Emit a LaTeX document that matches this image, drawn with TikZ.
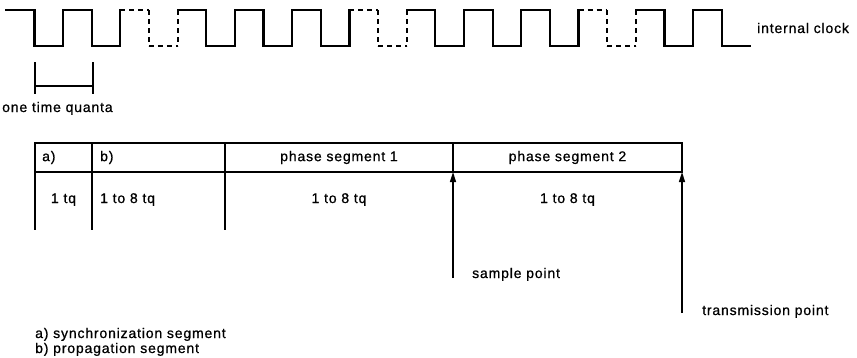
\documentclass[tikz,border=0pt]{standalone}
\usepackage{fontspec}
\setmainfont{Liberation Sans}[LetterSpace=6.0,FakeBold=0.8]
\usetikzlibrary{arrows.meta,positioning}

\tikzset{
  lbl/.style={font=\fontsize{14}{16}\selectfont,inner sep=0pt},
  hdcell/.style={draw,line width=2.2pt,minimum height=29pt,inner sep=0pt,
    outer sep=0pt,anchor=north west,font=\fontsize{14}{16}\selectfont},
  clk/.style={line width=2.2pt,line cap=rect},
  clkdash/.style={line width=2.2pt,dash pattern=on 5pt off 4pt},
  rule/.style={line width=1.5pt},
  pointer/.style={-{Triangle[length=10pt,width=6pt]},line width=1.5pt},
}

\begin{document}
\begin{tikzpicture}[x=1pt,y=-1pt]
  \useasboundingbox (0,0) rectangle (857,357);

  % internal clock
  \draw[clk] (6,10) -- (34.4,10);
  \foreach \i in {0,...,24}{
    \pgfmathsetmacro{\xa}{34.4+28.64*\i}
    \pgfmathsetmacro{\xb}{ifthenelse(\i==24,750,34.4+28.64*(\i+1))}
    \pgfmathsetmacro{\lv}{ifthenelse(mod(\i,2)==0,46,10)}
    \pgfmathtruncatemacro{\m}{mod(\i,8)}
    \def\es{clk}\def\ss{clk}
    \ifnum\m=4 \def\es{clkdash}\def\ss{clkdash}\fi
    \ifnum\m=5 \def\es{clkdash}\fi
    \ifnum\m=3 \def\ss{clkdash}\fi
    \draw[\es] (\xa,10) -- (\xa,46);
    \draw[\ss] (\xa,\lv) -- (\xb,\lv);
  }
  \node[lbl,anchor=base west] (clklbl) at (757,33) {internal clock};

  % one time quanta
  \coordinate (tqa) at (35,86);
  \coordinate (tqb) at (93,86);
  \draw[rule] (35,62) -- (35,94);
  \draw[rule] (93,62) -- (93,94);
  \draw[rule] (tqa) -- (tqb);
  \node[lbl,anchor=base west] (tqlbl) at (2,112) {one time quanta};

  % bit time
  \node[hdcell,minimum width=57pt] (sync) at (35,143) {};
  \node[hdcell,minimum width=133pt,right=0pt of sync] (prop) {};
  \node[hdcell,minimum width=228pt,right=0pt of prop] (ps1) {phase segment 1};
  \node[hdcell,minimum width=229pt,right=0pt of ps1] (ps2) {phase segment 2};
  \node[lbl,right=7pt of sync.west] {a)};
  \node[lbl,right=8pt of prop.west] {b)};

  \draw[rule] (sync.south west) -- ++(0,58);
  \draw[rule] (prop.south west) -- ++(0,58);
  \draw[rule] (ps1.south west) -- ++(0,58);

  \node[lbl,anchor=base] (tqsync) at (sync.center |- 0,203) {1 tq};
  \node[lbl,anchor=base west] (tqprop) at (100,203) {1 to 8 tq};
  \node[lbl,anchor=base] (tqps1) at (ps1.center |- 0,203) {1 to 8 tq};
  \node[lbl,anchor=base] (tqps2) at (ps2.center |- 0,203) {1 to 8 tq};

  % sample and transmission point
  \coordinate (spfoot) at (453,278);
  \coordinate (tpfoot) at (682,313);
  \draw[pointer] (spfoot) -- (ps1.south east);
  \draw[pointer] (tpfoot) -- (ps2.south east);
  \node[lbl,anchor=base west] (splbl) at (472,278) {sample point};
  \node[lbl,anchor=base west] (tplbl) at (702,315) {transmission point};

  % legend
  \node[lbl,anchor=base west] (lega) at (35,338) {a) synchronization segment};
  \node[lbl,anchor=base west] (legb) at (35,353) {b) propagation segment};
\end{tikzpicture}
\end{document}
